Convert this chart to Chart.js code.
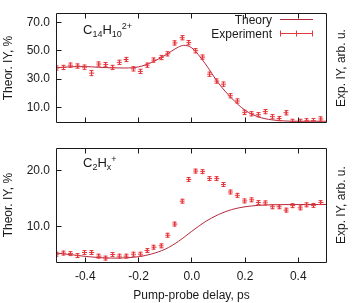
<!DOCTYPE html>
<html>
<head>
<meta charset="utf-8">
<script src="https://cdn.jsdelivr.net/npm/chart.js@4.4.1/dist/chart.umd.min.js"></script>
<style>
  html, body { margin: 0; padding: 0; background: #fff; }
  #wrap { position: relative; width: 353px; height: 303px; overflow: hidden; }
  canvas { position: absolute; left: 0; }
  #topChart { top: 0; }
  #bottomChart { top: 135px; }
</style>
</head>
<body>
<div id="wrap">
  <canvas id="topChart" width="353" height="136"></canvas>
  <canvas id="bottomChart" width="353" height="168"></canvas>
</div>
<script>
'use strict';

// pump-probe delay (ps) of the measured points, same grid in both panels
const delays = [-0.507, -0.482, -0.456, -0.428, -0.403, -0.376, -0.349, -0.323, -0.297, -0.272,
  -0.247, -0.219, -0.193, -0.168, -0.142, -0.115, -0.090, -0.063, -0.036, -0.011,
  0.015, 0.041, 0.067, 0.094, 0.119, 0.145, 0.171, 0.199, 0.225, 0.250,
  0.276, 0.303, 0.328, 0.354, 0.379, 0.407, 0.432, 0.457, 0.485];

// C14H10 2+ panel
const expC14 = [37.8, 38.2, 39.8, 39.2, 38.4, 34.2, 40.6, 40.2, 38.2, 41.8,
  43.8, 37.2, 35.4, 39.8, 43.4, 45.2, 47.8, 55.5, 59.2, 55.7,
  50.0, 45.5, 33.4, 28.6, 26.4, 18.2, 14.5, 6.5, 5.5, 4.8,
  7.0, 3.4, 2.1, 6.2, 0.1, 0.1, 0.5, 0.6, 1.8];
const errC14 = [1.5, 1.5, 1.5, 1.5, 1.5, 1.8, 1.5, 1.5, 1.5, 1.5,
  1.5, 1.5, 1.5, 1.5, 1.5, 1.5, 1.5, 1.5, 1.5, 1.5,
  1.5, 1.5, 1.5, 1.5, 1.5, 1.5, 1.5, 1.5, 1.5, 1.5,
  1.5, 1.5, 1.5, 1.5, 1.5, 1.5, 1.5, 1.5, 1.5];
const theoryC14X = [-0.51, -0.45, -0.40, -0.35, -0.30, -0.25, -0.20, -0.15, -0.10, -0.05,
  -0.03, 0.0, 0.05, 0.10, 0.15, 0.20, 0.25, 0.30, 0.35, 0.40, 0.508];
const theoryC14 = [38.0, 38.7, 38.8, 38.3, 37.9, 37.8, 38.6, 41.8, 46.8, 52.6,
  53.8, 52.0, 41.0, 27.2, 16.4, 8.0, 3.3, 1.2, 0.4, 0.2, 0.2];
const ticksC14 = [10, 30, 50, 70];

// C2Hx+ panel
const expC2 = [5.0, 5.2, 5.1, 4.75, 5.3, 5.3, 4.65, 4.3, 4.95, 4.65,
  4.65, 5.0, 5.0, 5.65, 6.25, 6.5, 8.4, 10.4, 14.5, 18.4,
  19.9, 19.8, 18.55, 18.55, 17.5, 16.15, 15.55, 14.55, 14.75, 14.25,
  14.2, 13.5, 13.5, 12.9, 13.7, 13.3, 13.85, 13.75, 14.25];
const errC2 = [0.35, 0.35, 0.35, 0.35, 0.35, 0.35, 0.35, 0.35, 0.35, 0.35,
  0.35, 0.35, 0.35, 0.35, 0.35, 0.35, 0.35, 0.35, 0.35, 0.35,
  0.35, 0.35, 0.35, 0.35, 0.35, 0.35, 0.35, 0.35, 0.35, 0.35,
  0.35, 0.35, 0.35, 0.35, 0.35, 0.35, 0.35, 0.35, 0.35];
const theoryC2X = [-0.51, -0.45, -0.40, -0.35, -0.30, -0.25, -0.20, -0.15, -0.10, -0.05,
  0.0, 0.05, 0.10, 0.15, 0.20, 0.25, 0.30, 0.40, 0.508];
const theoryC2 = [5.2, 4.9, 4.6, 4.4, 4.3, 4.35, 4.55, 5.05, 5.9, 7.3,
  9.1, 10.8, 12.1, 13.0, 13.5, 13.75, 13.85, 13.9, 13.9];
const ticksC2 = [10, 20];

const delayTicks = [-0.4, -0.2, 0, 0.2, 0.4];

const EXP = '#e5363c';
const THEORY = '#b42a3c';
const TEXT = '#1a1a1a';
const FONT = '"Liberation Sans", Arial, sans-serif';

Chart.defaults.font.family = FONT;
Chart.defaults.font.size = 12;
Chart.defaults.color = TEXT;

const snap = (v) => Math.floor(v) + 0.5;

function drawFormula(ctx, x, y, parts) {
  parts.forEach(([text, kind]) => {
    const size = kind ? 9 : 13;
    const dy = kind === 'sub' ? 3 : kind === 'sup' ? -5 : 0;
    ctx.font = size + 'px ' + FONT;
    ctx.fillText(text, x, y + dy);
    x += ctx.measureText(text).width;
  });
}

function panelPlugin(cfg) {
  return {
    id: 'panel',
    afterDatasetsDraw(chart) {
      // vertical error bars with small caps
      const { ctx, chartArea: a, scales: { x, y } } = chart;
      ctx.save();
      ctx.beginPath();
      ctx.rect(a.left, a.top, a.right - a.left, a.bottom - a.top);
      ctx.clip();
      ctx.strokeStyle = EXP;
      ctx.lineWidth = 1;
      ctx.beginPath();
      delays.forEach((d, i) => {
        const px = snap(x.getPixelForValue(d));
        const hi = y.getPixelForValue(cfg.exp[i] + cfg.err[i]);
        const lo = y.getPixelForValue(cfg.exp[i] - cfg.err[i]);
        ctx.moveTo(px, hi); ctx.lineTo(px, lo);
        ctx.moveTo(px - 2, hi); ctx.lineTo(px + 2, hi);
        ctx.moveTo(px - 2, lo); ctx.lineTo(px + 2, lo);
      });
      ctx.stroke();
      ctx.restore();
    },
    afterDraw(chart) {
      const { ctx, chartArea: a, scales: { x, y } } = chart;
      const l = snap(a.left), r = snap(a.right - 1), t = snap(a.top), b = snap(a.bottom);
      ctx.save();
      ctx.strokeStyle = TEXT;
      ctx.lineWidth = 1;
      ctx.beginPath();
      ctx.rect(l, t, r - l, b - t);
      delayTicks.forEach((v) => {
        const px = snap(x.getPixelForValue(v));
        ctx.moveTo(px, t); ctx.lineTo(px, t + 5);
        ctx.moveTo(px, b); ctx.lineTo(px, b - 5);
      });
      cfg.yTicks.forEach((v) => {
        const py = snap(y.getPixelForValue(v));
        ctx.moveTo(l, py); ctx.lineTo(l + 5, py);
      });
      ctx.stroke();

      ctx.fillStyle = TEXT;
      ctx.textAlign = 'left';
      ctx.textBaseline = 'alphabetic';
      drawFormula(ctx, 83, a.top + cfg.formulaY, cfg.formula);

      ctx.save();
      ctx.translate(341.5, (a.top + a.bottom) / 2);
      ctx.rotate(-Math.PI / 2);
      ctx.textAlign = 'center';
      ctx.textBaseline = 'middle';
      ctx.font = '12px ' + FONT;
      ctx.fillText('Exp. IY, arb. u.', 0, 0);
      ctx.restore();

      if (cfg.legend) {
        ctx.font = '12px ' + FONT;
        ctx.textAlign = 'right';
        ctx.fillText('Theory', 272, 23.5);
        ctx.fillText('Experiment', 272, 37.5);
        ctx.strokeStyle = THEORY;
        ctx.beginPath();
        ctx.moveTo(280, 19.5); ctx.lineTo(313, 19.5);
        ctx.stroke();
        ctx.strokeStyle = EXP;
        ctx.beginPath();
        ctx.moveTo(280, 33.5); ctx.lineTo(313, 33.5);
        [280.5, 296.5, 312.5].forEach((px) => { ctx.moveTo(px, 30.5); ctx.lineTo(px, 36.5); });
        ctx.stroke();
      }
      ctx.restore();
    },
  };
}

function makeChart(id, cfg) {
  return new Chart(document.getElementById(id), {
    type: 'scatter',
    data: {
      datasets: [
        {
          data: delays.map((d, i) => ({ x: d, y: cfg.exp[i] })),
          borderColor: EXP,
          backgroundColor: EXP,
          pointStyle: 'cross',
          pointRadius: 2.5,
          borderWidth: 1,
        },
        {
          data: cfg.theoryX.map((d, i) => ({ x: d, y: cfg.theory[i] })),
          showLine: true,
          borderColor: THEORY,
          borderWidth: 1,
          pointRadius: 0,
          cubicInterpolationMode: 'monotone',
        },
      ],
    },
    options: {
      responsive: false,
      animation: false,
      layout: { padding: cfg.padding },
      plugins: { legend: { display: false }, tooltip: { enabled: false } },
      scales: {
        x: {
          type: 'linear',
          min: -0.51,
          max: 0.508,
          display: cfg.showX,
          grid: { display: false, drawTicks: false },
          border: { display: false },
          afterBuildTicks: (s) => { s.ticks = delayTicks.map((v) => ({ value: v })); },
          afterFit: (s) => { s.height = cfg.showX ? 41 : 0; },
          ticks: { padding: 7, autoSkip: false, maxRotation: 0, callback: (v) => v.toFixed(1) },
          title: { display: true, text: 'Pump-probe delay, ps', padding: 0 },
        },
        y: {
          min: cfg.yMin,
          max: cfg.yMax,
          grid: { display: false, drawTicks: false },
          border: { display: false },
          afterBuildTicks: (s) => { s.ticks = cfg.yTicks.map((v) => ({ value: v })); },
          afterFit: (s) => { s.width = 56; },
          ticks: { padding: 6, autoSkip: false, callback: (v) => v.toFixed(1) },
          title: { display: true, text: 'Theor. IY, %', padding: { top: 1, bottom: 0 } },
        },
      },
    },
    plugins: [panelPlugin(cfg)],
  });
}

makeChart('topChart', {
  exp: expC14, err: errC14, theoryX: theoryC14X, theory: theoryC14,
  yMin: -0.9, yMax: 76.5, yTicks: ticksC14, showX: false,
  padding: { top: 5, right: 26, bottom: 1, left: 0 },
  formula: [['C'], ['14', 'sub'], ['H'], ['10', 'sub'], ['2+', 'sup']],
  formulaY: 21, legend: true,
});

makeChart('bottomChart', {
  exp: expC2, err: errC2, theoryX: theoryC2X, theory: theoryC2,
  yMin: 3.6, yMax: 24, yTicks: ticksC2, showX: true,
  padding: { top: 0, right: 26, bottom: 0, left: 0 },
  formula: [['C'], ['2', 'sub'], ['H'], ['x', 'sub'], ['+', 'sup']],
  formulaY: 19, legend: false,
});
</script>
</body>
</html>
